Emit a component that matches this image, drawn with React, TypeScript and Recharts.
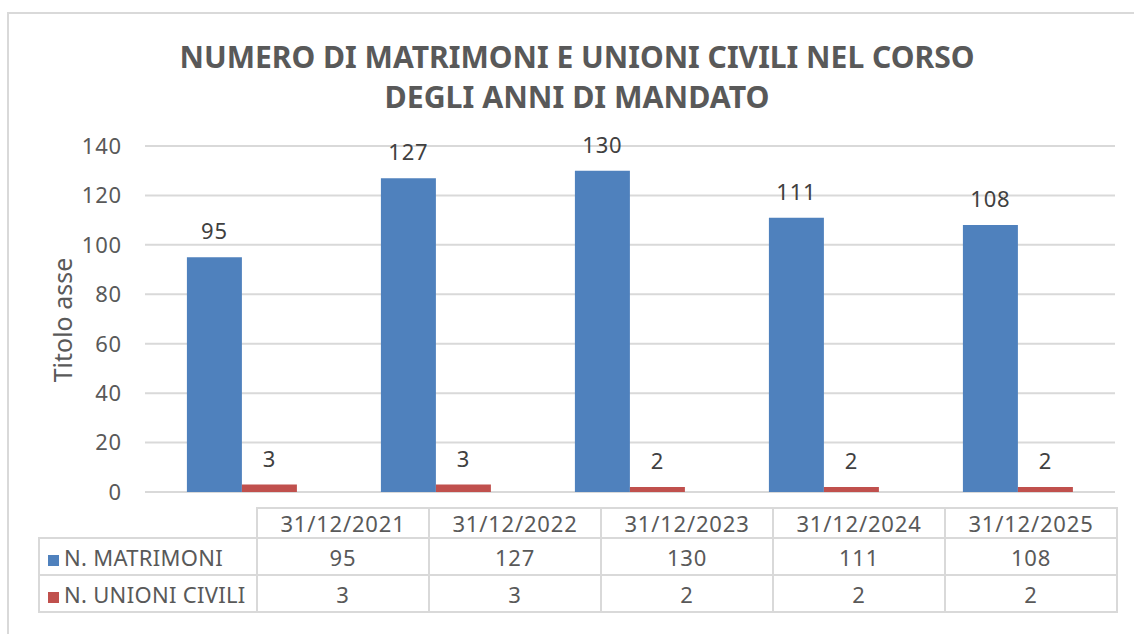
import React from 'react';
import { BarChart, Bar, XAxis, YAxis, CartesianGrid, LabelList } from 'recharts';

const categories = ['31/12/2021', '31/12/2022', '31/12/2023', '31/12/2024', '31/12/2025'];
const matrimoni = [95, 127, 130, 111, 108];
const unioniCivili = [3, 3, 2, 2, 2];
const yTicks = [0, 20, 40, 60, 80, 100, 120, 140];

const series = [
  { key: 'matrimoni', name: 'N. MATRIMONI', color: '#4F81BD', values: matrimoni },
  { key: 'unioni', name: 'N. UNIONI CIVILI', color: '#C0504D', values: unioniCivili },
];

const data = categories.map((c, i) => ({ date: c, matrimoni: matrimoni[i], unioni: unioniCivili[i] }));

const FONT = '"Noto Sans", Lato, sans-serif';
const TEXT = '#595959';
const GRID = '#d9d9d9';

const cell: React.CSSProperties = {
  border: `2px solid ${GRID}`,
  padding: 0,
  textAlign: 'center',
  fontSize: 22,
  lineHeight: '24px',
  letterSpacing: 0.8,
  color: TEXT,
  fontFamily: FONT,
};

export default function App() {
  return (
    <div style={{ position: 'absolute', left: 0, top: 0, width: 1134, height: 634, background: '#fff', overflow: 'hidden' }}>
      <div style={{ position: 'absolute', left: 7, top: 12, width: 1140, height: 640, border: `2px solid ${GRID}` }} />

      <svg width={1134} height={130} style={{ position: 'absolute', left: 0, top: 0 }}>
        <text x={577} y={68} textAnchor="middle" fontFamily={FONT} fontWeight={700} fontSize={31} fill={TEXT}
          textLength={795} lengthAdjust="spacingAndGlyphs">
          NUMERO DI MATRIMONI E UNIONI CIVILI NEL CORSO
        </text>
        <text x={577} y={108} textAnchor="middle" fontFamily={FONT} fontWeight={700} fontSize={31} fill={TEXT}
          textLength={385} lengthAdjust="spacingAndGlyphs">
          DEGLI ANNI DI MANDATO
        </text>
      </svg>

      <div style={{ position: 'absolute', left: 0, top: 0 }}>
        <BarChart width={1134} height={634} data={data} margin={{ top: 146, right: 19, left: 45, bottom: 142 }}
          barCategoryGap="21.6%" barGap={0}>
          <CartesianGrid vertical={false} stroke={GRID} strokeWidth={2} />
          <XAxis dataKey="date" hide />
          <YAxis width={100} domain={[0, 140]} ticks={yTicks} axisLine={false} tickLine={false} tickMargin={17}
            tick={{ fill: TEXT, fontSize: 22, fontFamily: FONT, letterSpacing: 0.8 }} />
          {series.map((s) => (
            <Bar key={s.key} dataKey={s.key} name={s.name} fill={s.color} isAnimationActive={false}>
              <LabelList dataKey={s.key} position="top" offset={18} fill="#404040" fontSize={22}
                fontFamily={FONT} letterSpacing={0.8} />
            </Bar>
          ))}
        </BarChart>
      </div>

      <div style={{ position: 'absolute', left: 62, top: 320, transform: 'translate(-50%, -50%) rotate(-90deg)', whiteSpace: 'nowrap', fontFamily: FONT, fontSize: 25, color: TEXT }}>
        Titolo asse
      </div>

      <table style={{ position: 'absolute', left: 38, top: 507, borderCollapse: 'collapse', tableLayout: 'fixed', width: 1080 }}>
        <colgroup>
          <col style={{ width: 218 }} />
          {categories.map((c) => <col key={c} style={{ width: 172 }} />)}
        </colgroup>
        <tbody>
          <tr style={{ height: 30 }}>
            <td style={{ ...cell, borderTop: 'none', borderLeft: 'none' }} />
            {categories.map((c) => <td key={c} style={cell}>{c}</td>)}
          </tr>
          {series.map((s) => (
            <tr key={s.key} style={{ height: 37 }}>
              <td style={{ ...cell, textAlign: 'left', paddingLeft: 8, whiteSpace: 'nowrap', letterSpacing: 0.3 }}>
                <span style={{ display: 'inline-block', width: 11, height: 11, background: s.color, marginRight: 5 }} />
                {s.name}
              </td>
              {s.values.map((v, i) => <td key={categories[i]} style={cell}>{v}</td>)}
            </tr>
          ))}
        </tbody>
      </table>
    </div>
  );
}
